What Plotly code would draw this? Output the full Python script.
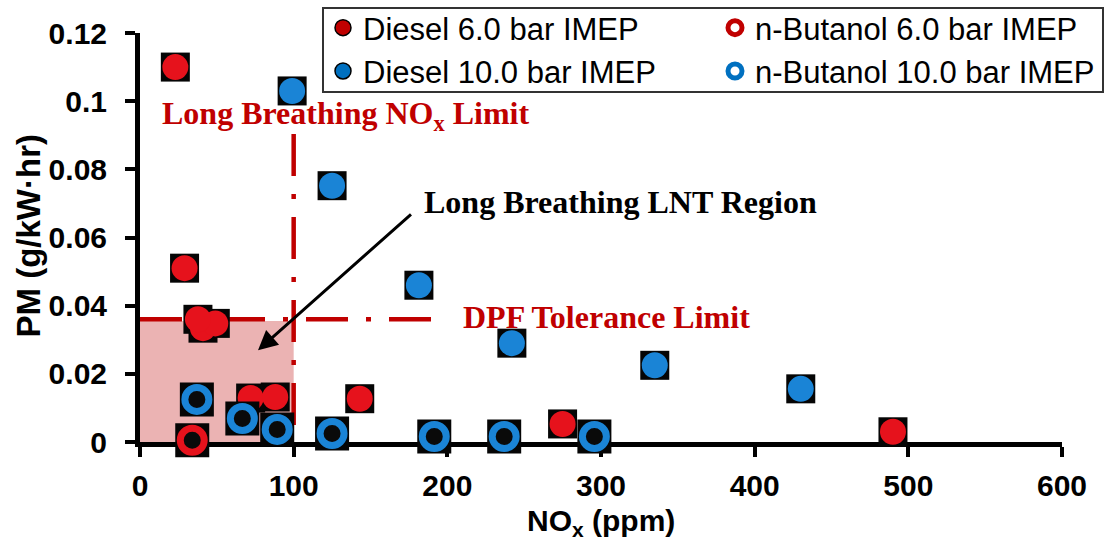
import plotly.graph_objects as go

# ---- data ----
diesel6_x = [23, 29, 41, 49, 37.7, 72, 88, 143, 275, 490]
diesel6_y = [0.110, 0.051, 0.0334, 0.0348, 0.036, 0.0129, 0.0132, 0.0127, 0.0053, 0.0030]

butanol6_x = [34]
butanol6_y = [0.0005]

diesel10_x = [99, 125, 181.5, 242, 335, 430]
diesel10_y = [0.103, 0.0752, 0.046, 0.029, 0.0225, 0.0156]

butanol10_x = [37, 66.6, 89.3, 125, 191.5, 237, 295.7]
butanol10_y = [0.0125, 0.0069, 0.0037, 0.0025, 0.0016, 0.0016, 0.0016]

x_ticks = [0, 100, 200, 300, 400, 500, 600]
y_ticks = [0, 0.02, 0.04, 0.06, 0.08, 0.1, 0.12]
y_tick_text = ["0", "0.02", "0.04", "0.06", "0.08", "0.1", "0.12"]

nox_limit = 100
nox_limit_top = 0.0904
dpf_limit = 0.036
dpf_line_end = 197
lnt_top = 0.0355

RED = "#C00000"
BLUE = "#0070C0"
RED_PT = "#E6121C"
BLUE_PT = "#1A84D6"

fig = go.Figure()


def add_series(xs, ys, name, pt_color, hollow):
    sq = 34 if hollow else 29
    # dark square backing of each marker
    fig.add_trace(go.Scatter(x=xs, y=ys, mode="markers", showlegend=False, hoverinfo="skip",
                             cliponaxis=False,
                             marker=dict(symbol="square", size=sq, color="#050505", line=dict(width=0))))
    if hollow:
        fig.add_trace(go.Scatter(x=xs, y=ys, mode="markers", showlegend=False, cliponaxis=False, name=name,
                                 marker=dict(symbol="circle", size=24, color="#0a0a0a",
                                             line=dict(color=pt_color, width=7))))
    else:
        fig.add_trace(go.Scatter(x=xs, y=ys, mode="markers", showlegend=False, cliponaxis=False, name=name,
                                 marker=dict(symbol="circle", size=26, color=pt_color, line=dict(width=0))))


add_series(diesel6_x, diesel6_y, "Diesel 6.0 bar IMEP", RED_PT, False)
add_series(butanol6_x, butanol6_y, "n-Butanol 6.0 bar IMEP", RED_PT, True)
add_series(diesel10_x, diesel10_y, "Diesel 10.0 bar IMEP", BLUE_PT, False)
add_series(butanol10_x, butanol10_y, "n-Butanol 10.0 bar IMEP", BLUE_PT, True)

# legend entries: column 1 (legend) = diesel, column 2 (legend2) = n-butanol
legend_items = [
    ("Diesel 6.0 bar IMEP", RED, False, "legend"),
    ("Diesel 10.0 bar IMEP", BLUE, False, "legend"),
    ("n-Butanol 6.0 bar IMEP", RED, True, "legend2"),
    ("n-Butanol 10.0 bar IMEP", BLUE, True, "legend2"),
]
for i, (name, col, hollow, lg) in enumerate(legend_items):
    if hollow:
        mk = dict(symbol="circle", size=14, color="white", line=dict(color=col, width=5))
    else:
        mk = dict(symbol="circle", size=16, color=col, line=dict(color="black", width=1.5))
    fig.add_trace(go.Scatter(x=[None], y=[None], mode="markers", name=name, marker=mk,
                             legend=lg, legendgroup=f"g{i}"))

dashdot = "42px,18px,5px,18px"
shapes = [
    dict(type="rect", xref="x", yref="y", x0=0, x1=nox_limit, y0=0, y1=lnt_top,
         fillcolor="#EBB3B3", line=dict(width=0), layer="below"),
    dict(type="line", xref="x", yref="y", x0=nox_limit, x1=nox_limit, y0=nox_limit_top, y1=0,
         line=dict(color=RED, width=4.5, dash=dashdot), layer="below"),
    dict(type="line", xref="x", yref="y", x0=0, x1=dpf_line_end, y0=dpf_limit, y1=dpf_limit,
         line=dict(color=RED, width=4.5, dash=dashdot), layer="below"),
    # legend frame
    dict(type="rect", xref="paper", yref="paper", x0=(323 - 140) / 922, x1=(1103 - 140) / 922,
         y0=(442 - 92) / 409, y1=(442 - 8) / 409, fillcolor="white",
         line=dict(color="#333333", width=2), layer="above"),
]

serif = "Liberation Serif, Times New Roman, serif"
sans = "Liberation Sans, Arial, sans-serif"
annotations = [
    dict(x=13, y=0.0957, xref="x", yref="y", xanchor="left", yanchor="middle", showarrow=False,
         text="<b>Long Breathing NO<sub>x</sub> Limit</b>", font=dict(family=serif, size=32, color=RED)),
    dict(x=208.8, y=0.0366, xref="x", yref="y", xanchor="left", yanchor="middle", showarrow=False,
         text="<b>DPF Tolerance Limit</b>", font=dict(family=serif, size=32, color=RED)),
    dict(x=183.5, y=0.0705, xref="x", yref="y", xanchor="left", yanchor="middle", showarrow=False,
         text="<b>Long Breathing LNT Region</b>", font=dict(family=serif, size=32, color="black")),
    dict(x=76.8, y=0.0269, xref="x", yref="y", ax=178.3, ay=0.0676, axref="x", ayref="y",
         text=" ", showarrow=True, arrowhead=2, arrowsize=1.3, arrowwidth=3, arrowcolor="black"),
    # axis titles
    dict(x=0.5, y=(442 - 522) / 409, xref="paper", yref="paper", xanchor="center", yanchor="middle",
         showarrow=False, text="<b>NO<sub>x</sub> (ppm)</b>", font=dict(family=sans, size=30, color="black")),
    dict(x=(28 - 140) / 922, y=(442 - 236.5) / 409, xref="paper", yref="paper", xanchor="center",
         yanchor="middle", textangle=-90, showarrow=False,
         text="<b>PM (g/kW·hr)</b>", font=dict(family=sans, size=33, color="black")),
]

axis_font = dict(family=sans, size=30, color="black")
legend_font = dict(family=sans, size=31, color="black")
fig.update_layout(
    width=1112, height=544,
    margin=dict(l=140, r=50, t=33, b=102, autoexpand=False),
    paper_bgcolor="white", plot_bgcolor="white",
    shapes=shapes, annotations=annotations,
    font=dict(family=sans, color="black"),
    legend=dict(orientation="v", x=(323 - 140) / 922, y=(442 - 1) / 409, xanchor="left", yanchor="top",
                bgcolor="rgba(0,0,0,0)", borderwidth=0, font=legend_font,
                tracegroupgap=0, itemwidth=30),
    legend2=dict(orientation="v", x=(715 - 140) / 922, y=(442 - 1) / 409, xanchor="left", yanchor="top",
                 bgcolor="rgba(0,0,0,0)", borderwidth=0, font=legend_font,
                 tracegroupgap=0, itemwidth=30),
    xaxis=dict(range=[0, 600], tickvals=x_ticks, ticktext=[f"<b>{v}</b>" for v in x_ticks],
               showgrid=False, zeroline=False, showline=True, linecolor="black", linewidth=5,
               ticks="outside", ticklen=10, tickwidth=4, tickcolor="black",
               tickfont=axis_font, ticklabelstandoff=3, layer="below traces"),
    yaxis=dict(range=[0, 0.12], tickvals=y_ticks, ticktext=[f"<b>{t}</b>" for t in y_tick_text],
               showgrid=False, zeroline=False, showline=True, linecolor="black", linewidth=5,
               ticks="outside", ticklen=10, tickwidth=4, tickcolor="black",
               tickfont=axis_font, ticklabelstandoff=12, layer="below traces"),
)

fig.write_html("out.html", config={"displayModeBar": False},
               post_script="document.body.style.margin='0px';document.body.style.overflow='hidden';")
